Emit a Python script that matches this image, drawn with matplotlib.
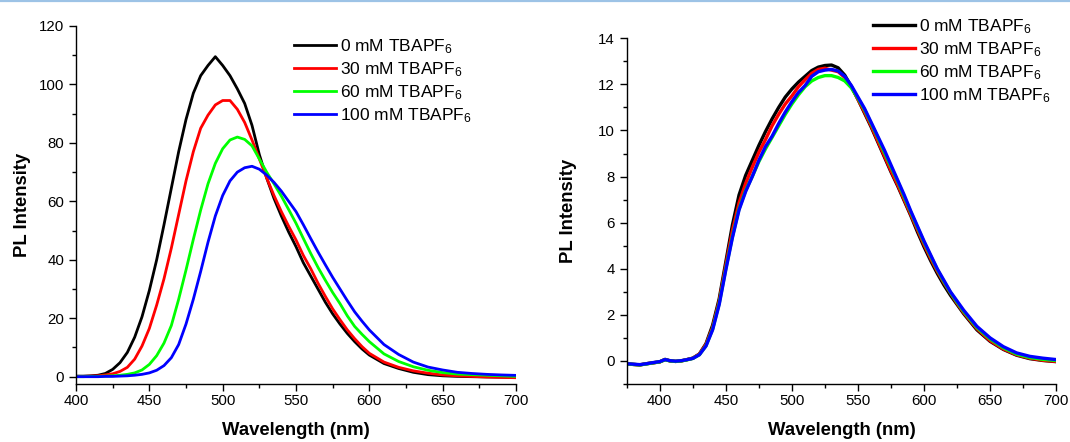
import numpy as np
import matplotlib
matplotlib.use("Agg")
from matplotlib import pyplot as plt
from matplotlib.ticker import MultipleLocator
from matplotlib.lines import Line2D

plt.rcParams['font.family'] = ['Liberation Sans', 'DejaVu Sans']
plt.rcParams['mathtext.fontset'] = 'custom'
plt.rcParams['mathtext.rm'] = 'Liberation Sans'
plt.rcParams['mathtext.default'] = 'regular'

labels = ['0 mM TBAPF$_6$', '30 mM TBAPF$_6$', '60 mM TBAPF$_6$', '100 mM TBAPF$_6$']
colors = ['#000000', '#ff0000', '#00ff00', '#0000ff']

# left panel: wavelength (nm) and PL intensity
wl_a = [400, 405, 410, 415, 420, 425, 430, 435, 440, 445, 450, 455, 460, 465, 470,
        475, 480, 485, 490, 495, 500, 505, 510, 515, 520, 525, 530, 535, 540, 545,
        550, 555, 560, 565, 570, 575, 580, 585, 590, 595, 600, 610, 620, 630, 640,
        650, 660, 670, 680, 690, 700]
a_0mM = [0.2, 0.2, 0.3, 0.5, 1.1, 2.5, 4.8, 8.3, 13.5, 20.5, 29.5, 40, 52, 64.5, 77,
         88, 97, 103, 106.5, 109.5, 106.5, 103, 98.5, 93.5, 86, 76, 68, 61, 55, 49.5,
         44.5, 39, 34.5, 30, 25.5, 21.5, 18, 14.8, 12, 9.5, 7.4, 4.5, 2.8, 1.5, 0.7,
         0.3, 0.1, 0.0, -0.1, -0.15, -0.2]
a_30mM = [0.1, 0.1, 0.2, 0.3, 0.6, 1.0, 1.8, 3.2, 6.0, 10.5, 16.5, 24.5, 33.5, 44, 55.5,
          67, 77, 85, 89.5, 93, 94.5, 94.5, 91.5, 87, 81, 74.5, 68, 62, 56.5, 51.5,
          46.8, 41.5, 37, 32, 27.5, 23.2, 19.5, 16, 13, 10.3, 8, 5, 3.2, 2.0, 1.2,
          0.6, 0.3, 0.1, -0.1, -0.25, -0.35]
a_60mM = [0.0, 0.0, 0.1, 0.1, 0.2, 0.3, 0.5, 0.8, 1.3, 2.3, 4.2, 7.2, 11.5, 17.5, 26.5,
          36.5, 47, 57, 66, 73, 78, 81, 82, 81.2, 79, 74.5, 70, 66, 61.8, 57.2,
          52.5, 47.3, 42.2, 37.4, 33, 28.8, 25, 20.8, 17.2, 14.5, 12, 7.8, 5.2, 3.4, 2.2,
          1.4, 0.9, 0.7, 0.5, 0.3, 0.1]
a_100mM = [0.0, 0.0, 0.0, 0.0, 0.1, 0.1, 0.2, 0.3, 0.5, 0.8, 1.3, 2.2, 3.8, 6.5, 11,
           18, 26.5, 36, 46, 55, 62, 67, 70, 71.5, 72, 71, 69, 66.5, 63.5, 60,
           56.5, 52, 47.3, 42.7, 38.3, 34, 30, 26, 22.2, 19, 16, 11, 7.6, 5.0, 3.3,
           2.3, 1.5, 1.1, 0.8, 0.6, 0.45]

# right panel
wl_b = [375, 380, 385, 390, 395, 400, 404, 408, 412, 416, 420, 425, 430, 435, 440,
        445, 450, 455, 460, 465, 470, 475, 480, 485, 490, 495, 500, 505, 510, 515,
        520, 525, 530, 535, 540, 545, 550, 555, 560, 565, 570, 575, 580, 585, 590,
        595, 600, 605, 610, 615, 620, 625, 630, 640, 650, 660, 670, 680, 690, 700]
b_0mM = [-0.12, -0.15, -0.17, -0.12, -0.08, -0.04, 0.07, 0.0, -0.02, 0.0, 0.05, 0.12, 0.3, 0.75, 1.55,
         2.7, 4.3, 5.9, 7.2, 8.05, 8.7, 9.35, 9.95, 10.5, 11.0, 11.45, 11.8, 12.1, 12.35, 12.6,
         12.75, 12.82, 12.84, 12.72, 12.4, 11.9, 11.35, 10.75, 10.15, 9.5, 8.85, 8.2, 7.6, 6.95, 6.3,
         5.6, 4.95, 4.35, 3.8, 3.3, 2.85, 2.45, 2.05, 1.35, 0.85, 0.5, 0.25, 0.1, 0.02, -0.03]
b_30mM = [-0.13, -0.15, -0.17, -0.12, -0.08, -0.04, 0.06, 0.0, -0.02, 0.0, 0.05, 0.12, 0.3, 0.72, 1.45,
          2.6, 4.15, 5.65, 6.85, 7.7, 8.4, 9.05, 9.6, 10.2, 10.7, 11.15, 11.5, 11.9, 12.2, 12.48,
          12.65, 12.7, 12.62, 12.55, 12.3, 11.9, 11.35, 10.8, 10.2, 9.55, 8.9, 8.25, 7.65, 7.0, 6.35,
          5.7, 5.05, 4.45, 3.9, 3.4, 2.95, 2.5, 2.1, 1.4, 0.88, 0.52, 0.27, 0.12, 0.03, -0.02]
b_60mM = [-0.13, -0.15, -0.17, -0.13, -0.08, -0.04, 0.05, 0.0, -0.02, 0.0, 0.04, 0.11, 0.27, 0.66, 1.38,
          2.5, 4.0, 5.4, 6.6, 7.4, 8.0, 8.65, 9.2, 9.7, 10.2, 10.7, 11.15, 11.55, 11.9, 12.15,
          12.3, 12.38, 12.38, 12.3, 12.15, 11.85, 11.4, 10.9, 10.3, 9.7, 9.05, 8.42, 7.8, 7.12, 6.45,
          5.8, 5.15, 4.55, 3.97, 3.45, 2.97, 2.55, 2.15, 1.45, 0.95, 0.57, 0.3, 0.15, 0.07, 0.02]
b_100mM = [-0.12, -0.14, -0.16, -0.12, -0.07, -0.03, 0.06, 0.01, -0.01, 0.01, 0.05, 0.11, 0.27, 0.65, 1.35,
           2.45, 3.95, 5.35, 6.55, 7.35, 8.0, 8.7, 9.3, 9.75, 10.3, 10.8, 11.25, 11.65, 11.95, 12.35,
           12.55, 12.62, 12.65, 12.58, 12.35, 11.95, 11.45, 10.95, 10.35, 9.75, 9.15, 8.5, 7.85, 7.2, 6.5,
           5.85, 5.2, 4.6, 4.0, 3.5, 3.0, 2.6, 2.2, 1.5, 1.0, 0.62, 0.35, 0.2, 0.12, 0.06]

W, H = 1070, 442
fig = plt.figure(figsize=(W / 100, H / 100), dpi=100)
ax1 = fig.add_axes([76 / W, 58 / H, 440 / W, 358 / H])
ax2 = fig.add_axes([626.7 / W, 58 / H, 429.5 / W, 345.7 / H])

for y, c, lab in zip([a_0mM, a_30mM, a_60mM, a_100mM], colors, labels):
    ax1.plot(wl_a, y, color=c, lw=2.0, label=lab)
for y, c, lab in zip([b_0mM, b_30mM, b_60mM, b_100mM], colors, labels):
    ax2.plot(wl_b, y, color=c, lw=2.4, label=lab)

ax1.set_xlim(400, 700)
ax1.set_ylim(-2.5, 120)
ax1.yaxis.set_major_locator(MultipleLocator(20))
ax1.yaxis.set_minor_locator(MultipleLocator(10))
ax2.set_xlim(375, 700)
ax2.set_ylim(-1, 14)
ax2.yaxis.set_major_locator(MultipleLocator(2))
ax2.yaxis.set_minor_locator(MultipleLocator(1))

for ax in (ax1, ax2):
    ax.xaxis.set_major_locator(MultipleLocator(50))
    ax.xaxis.set_minor_locator(MultipleLocator(25))
    ax.spines['top'].set_visible(False)
    ax.spines['right'].set_visible(False)
    ax.spines['left'].set_linewidth(1.0)
    ax.spines['bottom'].set_linewidth(1.0)
    ax.tick_params(which='major', direction='out', length=5, width=1.0, labelsize=10.8)
    ax.tick_params(which='minor', direction='out', length=3, width=1.0)
    ax.tick_params(axis='x', pad=2.5)
    ax.tick_params(axis='y', pad=3.5)
    ax.set_xlabel('Wavelength (nm)', fontsize=13.3, fontweight='bold')
    ax.set_ylabel('PL Intensity', fontsize=13.3, fontweight='bold')

ax1.xaxis.set_label_coords(0.5, (384 - 422) / 358)
ax2.xaxis.set_label_coords(0.5, (384 - 422) / 345.7)
ax1.yaxis.set_label_coords((31.4 - 76) / 440, 0.5)
ax2.yaxis.set_label_coords((577 - 626.7) / 429.5, 0.5)

leg_opts = dict(loc='upper left', bbox_transform=fig.transFigure, frameon=False,
                fontsize=12.5, handlelength=2.42, handletextpad=0.23,
                labelspacing=0.25, borderpad=0, borderaxespad=0)
ax1.legend(bbox_to_anchor=(294 / W, 1 - 37.4 / H), **leg_opts)
ax2.legend(bbox_to_anchor=(872.7 / W, 1 - 17 / H), **leg_opts)

# thin blue rule along the top edge
fig.add_artist(Line2D([0, 1], [1 - 0.8 / H, 1 - 0.8 / H], transform=fig.transFigure,
                      color='#9dc3e6', lw=1.6))

fig.savefig('out.png', dpi=100)
